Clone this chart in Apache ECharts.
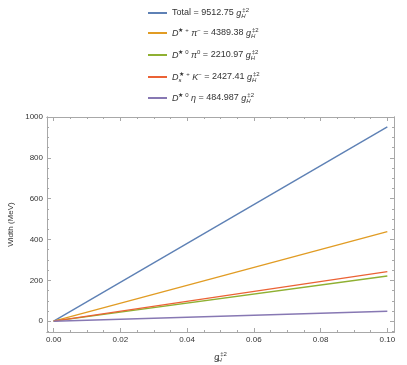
<!DOCTYPE html>
<html>
<head>
<meta charset="utf-8">
<script src="https://cdn.jsdelivr.net/npm/echarts@6/dist/echarts.min.js"></script>
<style>
  html, body { margin: 0; padding: 0; background: #fff; }
  #chart { width: 407px; height: 365px; }
</style>
</head>
<body>
<div id="chart"></div>
<script>
// data (straight lines from the origin to g = 0.10)
var gValues = [0, 0.1];
var seriesNames = ['Total', 'D*+ π−', 'D*0 π0', 'Ds*+ K−', 'D*0 η'];
var totalWidth = [0, 951.275];
var dStarPlusPi = [0, 438.938];
var dStarZeroPi = [0, 221.097];
var dsStarK = [0, 242.741];
var dStarZeroEta = [0, 48.4987];
var colors = ['#5e81b5', '#e19c24', '#8fb032', '#eb6235', '#8778b3'];

var xMajor = [0, 0.02, 0.04, 0.06, 0.08, 0.1];
var xMinor = [0.005, 0.01, 0.015, 0.025, 0.03, 0.035, 0.045, 0.05, 0.055,
              0.065, 0.07, 0.075, 0.085, 0.09, 0.095];
var yMajor = [0, 200, 400, 600, 800, 1000];
var yMinor = [-50, 50, 100, 150, 250, 300, 350, 450, 500, 550,
              650, 700, 750, 850, 900, 950];

var legendText = {
    'Total': '{n|Total = 9512.75 }{i|g}{subz|H}{sup|‡2}',
    'D*+ π−': '{i|D}{sup|★ +}{n| }{i|π}{sup|−}{n| = 4389.38 }{i|g}{subz|H}{sup|‡2}',
    'D*0 π0': '{i|D}{sup|★ 0}{n| }{i|π}{sup|0}{n| = 2210.97 }{i|g}{subz|H}{sup|‡2}',
    'Ds*+ K−': '{i|D}{subz|s}{sup|★ +}{n| }{i|K}{sup|−}{n| = 2427.41 }{i|g}{subz|H}{sup|‡2}',
    'D*0 η': '{i|D}{sup|★ 0}{n| }{i|η}{n| = 484.987 }{i|g}{subz|H}{sup|‡2}'
};

var font = 'Liberation Sans';
var frameColor = '#a8a8a8';
var labelColor = '#333';

var rich = {
    n: {fontSize: 9, lineHeight: 12, fontFamily: font, color: labelColor},
    i: {fontSize: 9, lineHeight: 12, fontFamily: font, fontStyle: 'italic', color: labelColor},
    sup: {fontSize: 6, lineHeight: 6, verticalAlign: 'top', fontFamily: font, color: labelColor},
    subz: {fontSize: 6, lineHeight: 6, width: 1, verticalAlign: 'bottom', fontFamily: font, fontStyle: 'italic', color: labelColor}
};

var legendTops = [7, 27, 49, 71, 92];
var legends = [];
for (var k = 0; k < seriesNames.length; k++) {
    legends.push({
        left: 148,
        top: legendTops[k],
        padding: 0,
        itemWidth: 19,
        itemHeight: 2,
        itemGap: 4,
        icon: 'rect',
        data: [seriesNames[k]],
        formatter: function (name) { return legendText[name]; },
        textStyle: {fontFamily: font, fontSize: 9, color: labelColor, rich: rich}
    });
}

function pairs(ys) {
    var out = [];
    for (var i = 0; i < gValues.length; i++) out.push([gValues[i], ys[i]]);
    return out;
}

var xRange = {min: -0.002, max: 0.102};
var yRange = {min: -53, max: 1000};

function xAxisDef(pos, ticks, len, withLabels) {
    return {
        type: 'value', position: pos, min: xRange.min, max: xRange.max,
        axisLine: {show: true, onZero: false, lineStyle: {color: frameColor, width: 1}},
        axisTick: {show: true, inside: true, length: len, customValues: ticks,
                   lineStyle: {color: frameColor}},
        axisLabel: withLabels ? {
            show: true, customValues: xMajor, margin: 4, fontSize: 8,
            fontFamily: font, color: labelColor,
            formatter: function (v) { return v.toFixed(2); }
        } : {show: false},
        splitLine: {show: false}
    };
}
function yAxisDef(pos, ticks, len, withLabels) {
    return {
        type: 'value', position: pos, min: yRange.min, max: yRange.max,
        axisLine: {show: true, onZero: false, lineStyle: {color: frameColor, width: 1}},
        axisTick: {show: true, inside: true, length: len, customValues: ticks,
                   lineStyle: {color: frameColor}},
        axisLabel: withLabels ? {
            show: true, customValues: yMajor, margin: 4, fontSize: 8,
            fontFamily: font, color: labelColor,
            formatter: function (v) { return String(v); }
        } : {show: false},
        splitLine: {show: false}
    };
}

var xMain = xAxisDef('bottom', xMajor, 4, true);
xMain.name = '{i|g}{subz|H}{sup|‡2}';
xMain.nameLocation = 'middle';
xMain.nameGap = 19;
xMain.nameTextStyle = {rich: rich};

var yMain = yAxisDef('left', yMajor, 4, true);
yMain.name = 'Width (MeV)';
yMain.nameLocation = 'middle';
yMain.nameGap = 28;
yMain.nameTextStyle = {fontFamily: font, fontSize: 8, color: labelColor};

var allData = [totalWidth, dStarPlusPi, dStarZeroPi, dsStarK, dStarZeroEta];
var series = [];
for (var s = 0; s < allData.length; s++) {
    series.push({
        name: seriesNames[s],
        type: 'line',
        xAxisIndex: 0,
        yAxisIndex: 0,
        showSymbol: false,
        silent: true,
        lineStyle: {width: 1.4, color: colors[s]},
        itemStyle: {color: colors[s]},
        data: pairs(allData[s])
    });
}

var myChart = echarts.init(document.getElementById('chart'), null, {renderer: 'canvas'});
var option = {
    backgroundColor: '#fff',
    animation: false,
    legend: legends,
    grid: {left: 47, right: 13, top: 117, bottom: 33, containLabel: false, outerBoundsMode: 'none'},
    xAxis: [
        xMain,
        xAxisDef('bottom', xMinor, 2, false),
        xAxisDef('top', xMajor, 4, false),
        xAxisDef('top', xMinor, 2, false)
    ],
    yAxis: [
        yMain,
        yAxisDef('left', yMinor, 2, false),
        yAxisDef('right', yMajor, 4, false),
        yAxisDef('right', yMinor, 2, false)
    ],
    series: series
};
myChart.setOption(option);
window.onresize = function () {
    myChart.resize();
};
</script>
</body>
</html>
